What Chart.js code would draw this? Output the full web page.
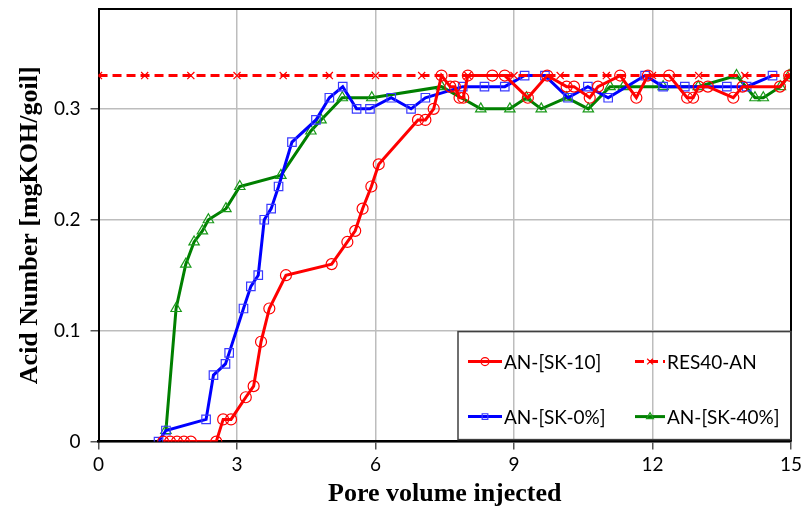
<!DOCTYPE html>
<html>
<head>
<meta charset="utf-8">
<script src="https://cdn.jsdelivr.net/npm/chart.js@4.4.1/dist/chart.umd.min.js"></script>
<style>
  html, body { margin: 0; padding: 0; background: #fff; }
  #wrap { width: 801px; height: 511px; }
</style>
</head>
<body>
<div id="wrap"><canvas id="chart" width="801" height="511"></canvas></div>
<script>
// =====================================================
// DATA
// =====================================================

const sk10X = [1.4, 1.55, 1.7, 1.85, 2.0, 2.55, 2.7, 2.87, 3.19, 3.36, 3.52, 3.7, 4.06, 5.05, 5.39, 5.56, 5.72, 5.91, 6.07,
  6.92, 7.08, 7.26, 7.43, 7.62, 7.72, 7.82, 7.9, 8.0, 8.53, 8.8, 9.3, 9.72, 10.14, 10.3, 10.64, 10.82, 11.3, 11.65,
  11.9, 12.36, 12.75, 12.88, 13.0, 13.2, 13.75, 13.95, 14.76, 14.96]
const sk10Y = [0, 0, 0, 0, 0, 0, 0.02, 0.02, 0.04, 0.05, 0.09, 0.12, 0.15, 0.16, 0.18, 0.19, 0.21, 0.23, 0.25,
  0.29, 0.29, 0.30, 0.33, 0.32, 0.32, 0.31, 0.31, 0.33, 0.33, 0.33, 0.31, 0.33, 0.32, 0.32, 0.31, 0.32, 0.33, 0.31,
  0.33, 0.33, 0.31, 0.31, 0.32, 0.32, 0.31, 0.32, 0.32, 0.33]

const res40X = [0, 1, 2, 3, 4, 5, 6, 7, 8, 9, 10, 11, 12, 13, 14, 15]
const res40Y = [0.33, 0.33, 0.33, 0.33, 0.33, 0.33, 0.33, 0.33, 0.33, 0.33, 0.33, 0.33, 0.33, 0.33, 0.33, 0.33]

const sk0X = [1.3, 1.46, 2.33, 2.49, 2.75, 2.83, 3.14, 3.3, 3.46, 3.59, 3.74, 3.9, 4.19, 4.71, 5.0, 5.29, 5.59, 5.88,
  6.34, 6.77, 7.08, 7.89, 8.36, 8.8, 9.23, 9.67, 10.17, 10.6, 11.04, 11.84, 12.23, 12.7, 13.61, 14.04, 14.6]
const sk0Y = [0, 0.01, 0.02, 0.06, 0.07, 0.08, 0.12, 0.14, 0.15, 0.20, 0.21, 0.23, 0.27, 0.29, 0.31, 0.32, 0.30, 0.30,
  0.31, 0.30, 0.31, 0.32, 0.32, 0.32, 0.33, 0.33, 0.31, 0.32, 0.31, 0.33, 0.32, 0.32, 0.32, 0.32, 0.33]

const sk40X = [1.46, 1.68, 1.89, 2.07, 2.25, 2.38, 2.76, 3.06, 3.95, 4.6, 4.82, 5.28, 5.92, 7.43, 8.28, 8.91, 9.27,
  9.59, 10.14, 10.61, 11.08, 11.37, 12.23, 12.99, 13.82, 14.22, 14.4, 14.77, 14.96]
const sk40Y = [0.01, 0.12, 0.16, 0.18, 0.19, 0.20, 0.21, 0.23, 0.24, 0.28, 0.29, 0.31, 0.31, 0.32, 0.30, 0.30, 0.31,
  0.30, 0.31, 0.30, 0.32, 0.32, 0.32, 0.32, 0.33, 0.31, 0.31, 0.32, 0.33]

const xTicks = [0, 3, 6, 9, 12, 15]
const yTicks = [0, 0.1, 0.2, 0.3]

const pts = (xs, ys) => xs.map((x, i) => ({ x, y: ys[i] }))

// =====================================================
// PLUGINS
// =====================================================

// marco superior y derecho del área de trazado
const frame = {
  id: 'frame',
  afterDatasetsDraw(chart) {
    const { ctx, chartArea: a } = chart
    ctx.save()
    ctx.strokeStyle = '#000'
    ctx.lineWidth = 2
    ctx.beginPath()
    ctx.moveTo(a.left, a.top)
    ctx.lineTo(a.right, a.top)
    ctx.lineTo(a.right, a.bottom)
    ctx.stroke()
    ctx.restore()
  }
}

// leyenda 2x2 dentro del área, abajo a la derecha
const boxLegend = {
  id: 'boxLegend',
  afterDatasetsDraw(chart) {
    const { ctx, chartArea: a } = chart
    const L = a.right - 333, T = a.bottom - 110
    ctx.save()
    ctx.strokeStyle = '#404040'
    ctx.lineWidth = 1.5
    ctx.strokeRect(L, T, 333, 108)

    const cells = [
      { ds: 0, x: L + 10, y: T + 30, w: 34 },
      { ds: 1, x: L + 177, y: T + 30, w: 30 },
      { ds: 2, x: L + 10, y: T + 85, w: 34 },
      { ds: 3, x: L + 177, y: T + 85, w: 30 }
    ]
    cells.forEach(c => {
      const d = chart.data.datasets[c.ds]
      ctx.strokeStyle = d.borderColor
      ctx.lineWidth = 3
      ctx.setLineDash(d.borderDash || [])
      ctx.beginPath()
      ctx.moveTo(c.x, c.y)
      ctx.lineTo(c.x + c.w, c.y)
      ctx.stroke()
      ctx.setLineDash([])
      ctx.strokeStyle = d.pointBorderColor
      ctx.fillStyle = 'rgba(0,0,0,0)'
      ctx.lineWidth = 1.2
      Chart.helpers.drawPoint(ctx, {
        pointStyle: d.pointStyle, radius: 4, borderWidth: 1.2, rotation: 0
      }, c.x + c.w / 2, c.y)
      ctx.fillStyle = '#000'
      ctx.font = '19px Lato'
      ctx.textBaseline = 'middle'
      ctx.fillText(d.label, c.x + c.w + 2, c.y + 1)
    })
    ctx.restore()
  }
}

// =====================================================
// CHART
// =====================================================

const serieBase = { showLine: true, borderWidth: 3, pointRadius: 5.5, pointBorderWidth: 1.2,
  pointBackgroundColor: 'rgba(0,0,0,0)', tension: 0 }

new Chart(document.getElementById('chart').getContext('2d'), {
  type: 'scatter',
  data: {
    datasets: [
      { ...serieBase, label: 'AN-[SK-10]', data: pts(sk10X, sk10Y), borderColor: '#ff0000',
        pointBorderColor: '#ff0000', pointStyle: 'circle' },
      { ...serieBase, label: 'RES40-AN', data: pts(res40X, res40Y), borderColor: '#ff0000',
        pointBorderColor: '#ff0000', pointStyle: 'crossRot', borderDash: [9, 5], pointRadius: 5 },
      { ...serieBase, label: 'AN-[SK-0%]', data: pts(sk0X, sk0Y), borderColor: '#0000ff',
        pointBorderColor: '#3a3aff', pointStyle: 'rect', pointRadius: 6 },
      { ...serieBase, label: 'AN-[SK-40%]', data: pts(sk40X, sk40Y), borderColor: '#008000',
        pointBorderColor: '#1a9a1a', pointStyle: 'triangle', pointRadius: 6 }
    ]
  },
  options: {
    responsive: false,
    animation: false,
    layout: { padding: { left: 17, right: 10, top: 9, bottom: 2 } },
    plugins: {
      legend: { display: false },
      tooltip: { enabled: false }
    },
    scales: {
      x: {
        type: 'linear', min: 0, max: 15,
        afterBuildTicks: s => { s.ticks = xTicks.map(v => ({ value: v })) },
        afterFit: s => { s.paddingRight = 0; s.paddingLeft = 0 },
        grid: { color: '#bdbdbd', lineWidth: 1.5, tickLength: 8, tickColor: '#555' },
        border: { color: '#000', width: 2.5 },
        ticks: { color: '#000', font: { family: 'Lato', size: 19 }, padding: 4, maxRotation: 0 },
        title: { display: true, text: 'Pore volume injected', color: '#000',
          font: { family: 'Liberation Serif', size: 26, weight: 'bold', lineHeight: 1.1 },
          padding: { top: 0, bottom: 0 } }
      },
      y: {
        type: 'linear', min: 0, max: 0.39,
        afterBuildTicks: s => { s.ticks = yTicks.map(v => ({ value: v })) },
        afterFit: s => { s.paddingTop = 0 },
        grid: { color: '#bdbdbd', lineWidth: 1.5, tickLength: 8, tickColor: '#555' },
        border: { color: '#000', width: 2 },
        ticks: { color: '#000', font: { family: 'Lato', size: 19 }, padding: 10,
          callback: v => v === 0 ? '0' : v.toFixed(1) },
        title: { display: true, text: 'Acid Number [mgKOH/goil]', color: '#000',
          font: { family: 'Liberation Serif', size: 26, weight: 'bold', lineHeight: 1.0 },
          padding: { top: 0, bottom: 1 } }
      }
    }
  },
  plugins: [frame, boxLegend]
})
</script>
</body>
</html>
